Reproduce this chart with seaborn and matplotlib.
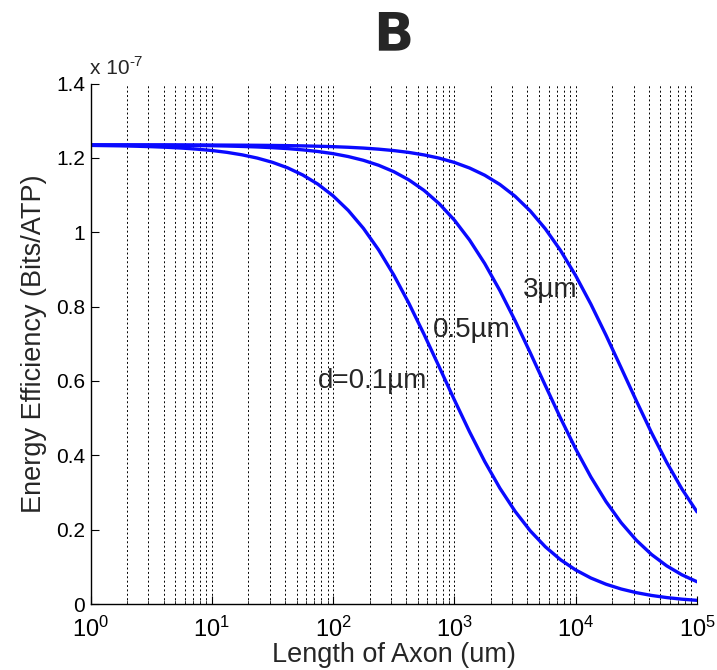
import numpy as np
import pandas as pd
import matplotlib
matplotlib.use("Agg")
import matplotlib.pyplot as plt
import seaborn as sns
from matplotlib.ticker import FixedLocator, FuncFormatter, LogLocator, NullFormatter

# ---- data (energy efficiency in units of 1e-7 Bits/ATP) ----
log_length = [k / 8 for k in range(41)]  # log10 of axon length (um), 0..5 in eighth-decades
eff_d01 = [1.2335, 1.2329, 1.2323, 1.2313, 1.2301, 1.2285, 1.2264, 1.2235, 1.2198,
           1.2148, 1.2081, 1.1994, 1.1880, 1.1732, 1.1539, 1.1292, 1.0978, 1.0586,
           1.0104, 0.9526, 0.8851, 0.8087, 0.7252, 0.6375, 0.5489, 0.4631, 0.3832,
           0.3115, 0.2494, 0.1969, 0.1538, 0.1190, 0.0915, 0.0699, 0.0532, 0.0403,
           0.0305, 0.0230, 0.0173, 0.0130, 0.0098]
eff_d05 = [1.2348, 1.2347, 1.2346, 1.2344, 1.2342, 1.2340, 1.2336, 1.2332, 1.2326,
           1.2318, 1.2307, 1.2293, 1.2274, 1.2249, 1.2215, 1.2171, 1.2113, 1.2035,
           1.1934, 1.1801, 1.1629, 1.1407, 1.1124, 1.0767, 1.0325, 0.9790, 0.9157,
           0.8430, 0.7623, 0.6760, 0.5874, 0.5000, 0.4171, 0.3417, 0.2753, 0.2186,
           0.1715, 0.1332, 0.1027, 0.0786, 0.0599]
eff_d3 = [1.2350, 1.2350, 1.2350, 1.2349, 1.2349, 1.2349, 1.2348, 1.2347, 1.2345,
          1.2343, 1.2341, 1.2338, 1.2334, 1.2329, 1.2322, 1.2313, 1.2301, 1.2285,
          1.2263, 1.2234, 1.2196, 1.2146, 1.2079, 1.1992, 1.1877, 1.1727, 1.1533,
          1.1284, 1.0968, 1.0574, 1.0090, 0.9509, 0.8831, 0.8065, 0.7229, 0.6350,
          0.5465, 0.4608, 0.3811, 0.3097, 0.2478]
curve_labels = ["d=0.1\u00b5m", "0.5\u00b5m", "3\u00b5m"]
y_ticks = [0, 0.2, 0.4, 0.6, 0.8, 1.0, 1.2, 1.4]
x_decades = [0, 1, 2, 3, 4, 5]

# ---- style ----
sns.set_style("white")
plt.rcParams["font.family"] = ["Liberation Sans", "DejaVu Sans"]
plt.rcParams["mathtext.fontset"] = "custom"
plt.rcParams["mathtext.rm"] = "Liberation Sans"
plt.rcParams["mathtext.it"] = "Liberation Sans:italic"
plt.rcParams["mathtext.bf"] = "Liberation Sans:bold"

fig = plt.figure(figsize=(7.17, 6.70), dpi=100)
ax = fig.add_axes([90.5 / 717, 66 / 670, (697 - 90.5) / 717, (604 - 83.5) / 670])

length = [10 ** v for v in log_length]
df = pd.DataFrame({
    "length": length * 3,
    "eff": eff_d01 + eff_d05 + eff_d3,
    "d": [curve_labels[0]] * 41 + [curve_labels[1]] * 41 + [curve_labels[2]] * 41,
})
sns.lineplot(data=df, x="length", y="eff", hue="d", palette=["#0a0aff"] * 3,
             linewidth=2.4, legend=False, ax=ax, sort=False)

ax.set_xscale("log")
ax.set_xlim(1, 1e5)
ax.set_ylim(0, 1.4)

# vertical dotted grid at every decade and sub-decade position
ax.xaxis.set_major_locator(FixedLocator([10 ** d for d in x_decades]))
ax.xaxis.set_minor_locator(LogLocator(base=10, subs=np.arange(2, 10), numticks=50))
ax.xaxis.set_minor_formatter(NullFormatter())
ax.xaxis.set_major_formatter(FuncFormatter(lambda v, p: r"$10^{%d}$" % round(np.log10(v))))
ax.grid(True, axis="x", which="both", color="black", linestyle=(0, (2, 2.5)), linewidth=0.7)
ax.grid(False, axis="y")

ax.yaxis.set_major_locator(FixedLocator(y_ticks))
ax.yaxis.set_major_formatter(FuncFormatter(lambda v, p: "%g" % round(v, 1)))

for s in ["top", "right"]:
    ax.spines[s].set_visible(False)
for s in ["left", "bottom"]:
    ax.spines[s].set_color("black")
    ax.spines[s].set_linewidth(1.0)

ax.tick_params(axis="both", which="major", direction="in", length=6, width=0.8,
               labelsize=15, colors="black")
ax.tick_params(axis="y", which="major", pad=4, left=True)
ax.tick_params(axis="x", which="major", pad=9, bottom=True, labelsize=17)
ax.tick_params(axis="x", which="minor", direction="in", length=3, width=0.6, bottom=True)

ax.set_xlabel("Length of Axon (um)", fontsize=19.5, labelpad=0)
ax.set_ylabel("Energy Efficiency (Bits/ATP)", fontsize=19.5, labelpad=6)

# MATLAB-style exponent label "x 10^-7"
ax.annotate("x 10", xy=(0, 1), xycoords="axes fraction", xytext=(0, 6),
            textcoords="offset pixels", fontsize=15, ha="left", va="bottom")
ax.annotate("-7", xy=(0, 1), xycoords="axes fraction", xytext=(39, 15),
            textcoords="offset pixels", fontsize=11, ha="left", va="bottom")

ax.set_title("B", fontsize=38, fontweight="bold", family="DejaVu Sans", pad=24)

# curve labels
ax.text(10 ** 1.876, 0.600, curve_labels[0], fontsize=20, ha="left", va="center")
ax.text(10 ** 2.824, 0.737, curve_labels[1], fontsize=20, ha="left", va="center")
ax.text(10 ** 3.566, 0.845, curve_labels[2], fontsize=20, ha="left", va="center")

fig.savefig("out.png", dpi=100, facecolor="white")
